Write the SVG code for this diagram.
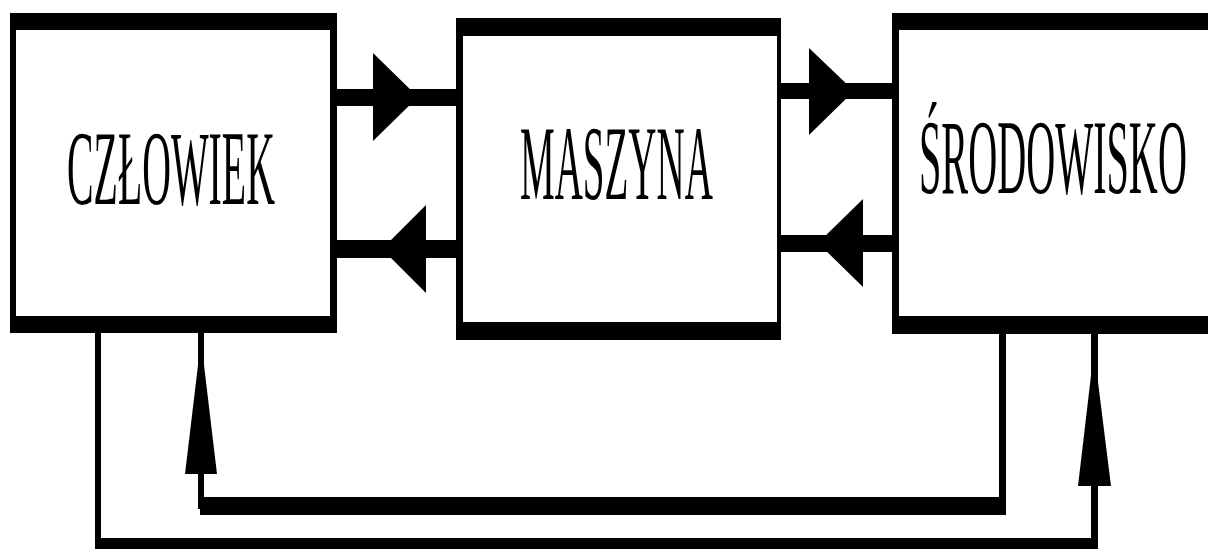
<svg xmlns="http://www.w3.org/2000/svg" width="1208" height="549" viewBox="0 0 1208 549">
<style>
.outer{fill:#000}
.inner{fill:#fff}
.lbl{font-family:"Liberation Serif","Times New Roman",serif;font-size:106px;fill:#000}
.ln{fill:#000}
</style>
<rect width="1208" height="549" fill="#fff"/>
<g id="connectors">
<rect class="ln" x="336" y="89" width="121" height="17"/>
<polygon class="ln" points="373,53 418,97 373,141"/>
<rect class="ln" x="336" y="240" width="121" height="18"/>
<polygon class="ln" points="426,205 382,249 426,293"/>
<rect class="ln" x="780" y="83" width="113" height="16"/>
<polygon class="ln" points="809,48 854,91 809,135"/>
<rect class="ln" x="780" y="235" width="113" height="17"/>
<polygon class="ln" points="863,199 818,243 863,287"/>
<rect class="ln" x="198" y="333" width="6" height="176"/>
<polygon class="ln" points="201,340 217,474 185,474"/>
<rect class="ln" x="200" y="497" width="806" height="18"/>
<rect class="ln" x="999" y="333" width="7" height="176"/>
<rect class="ln" x="95" y="333" width="6" height="216"/>
<rect class="ln" x="95" y="538" width="1003" height="11"/>
<rect class="ln" x="1091" y="333" width="7" height="216"/>
<polygon class="ln" points="1094,350 1111,486 1078,486"/>
</g>
<g id="czlowiek">
<rect class="outer" x="10" y="13" width="327" height="320"/>
<rect class="inner" x="16" y="30" width="314" height="286"/>
<text class="lbl" transform="matrix(0.376,0,0,1,67,204)" x="0" y="0" textLength="553" lengthAdjust="spacingAndGlyphs">CZŁOWIEK</text>
</g>
<g id="maszyna">
<rect class="outer" x="456" y="18" width="325" height="322"/>
<rect class="inner" x="463" y="36" width="314" height="286"/>
<text class="lbl" transform="matrix(0.368,0,0,1,520,199)" x="0" y="0" textLength="524" lengthAdjust="spacingAndGlyphs">MASZYNA</text>
</g>
<g id="srodowisko">
<rect class="outer" x="892" y="13" width="330" height="321"/>
<rect class="inner" x="899" y="30" width="320" height="286"/>
<text class="lbl" transform="matrix(0.38,0,0,1,919,193)" x="0" y="0" textLength="705" lengthAdjust="spacingAndGlyphs">ŚRODOWISKO</text>
</g>
</svg>
